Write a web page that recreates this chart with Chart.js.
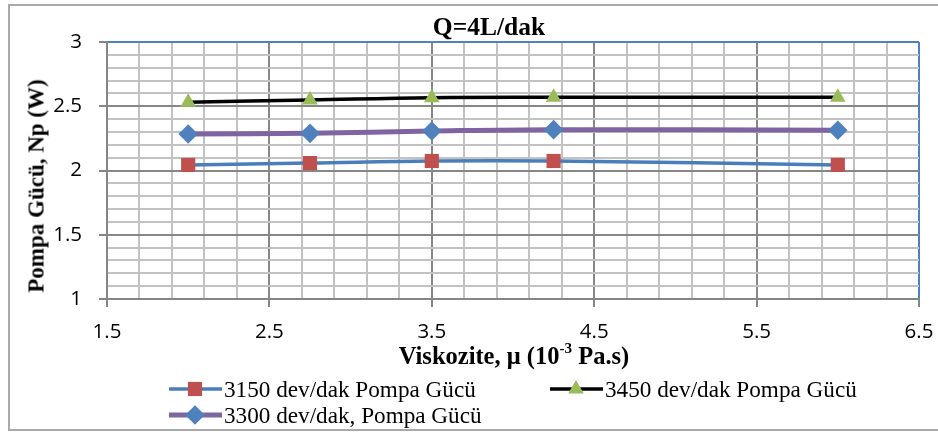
<!DOCTYPE html>
<html>
<head>
<meta charset="utf-8">
<script src="https://cdn.jsdelivr.net/npm/chart.js@4.4.1/dist/chart.umd.min.js"></script>
<style>
  html, body { margin: 0; padding: 0; background: #fff; overflow: hidden; }
  #wrap { position: relative; width: 938px; height: 432px; overflow: hidden; }
  #frame { position: absolute; left: 8px; top: 4px; width: 980px; height: 427px;
           border: 2px solid #a9a9a9; border-right: none; box-sizing: border-box; }
  canvas { position: absolute; left: 0; top: 0; }
  .t { position: absolute; font-family: 'Liberation Serif', 'Times New Roman', serif;
       color: #000; white-space: nowrap; line-height: 1; }
  #title  { left: 489px; top: 27px; transform: translate(-50%, -50%); font-weight: bold; font-size: 25.5px; }
  #ytitle { left: 36px; top: 186px; transform: translate(-50%, -50%) rotate(-90deg); font-weight: bold; font-size: 23px; }
  #xtitle { left: 514px; top: 356px; transform: translate(-50%, -50%); font-weight: bold; font-size: 24.5px; }
  #xtitle sup { font-size: 62%; position: relative; top: -0.1em; vertical-align: super; line-height: 0; }
  .leg { position: absolute; display: flex; align-items: center; height: 24px;
         font-family: 'Liberation Serif', 'Times New Roman', serif; font-size: 23.2px; color: #000; white-space: nowrap; }
  .leg svg { margin-right: 2px; }
</style>
</head>
<body>
<div id="wrap">
  <div id="frame"></div>
  <canvas id="c" width="938" height="432"></canvas>
  <div class="t" id="title">Q=4L/dak</div>
  <div class="t" id="ytitle">Pompa Gücü, Np (W)</div>
  <div class="t" id="xtitle">Viskozite, μ (10<sup>-3</sup> Pa.s)</div>
  <div id="legend"></div>
</div>
<script>
// Viscosity values (10^-3 Pa.s) at which pump power was measured
const viskozite = [2.0, 2.75, 3.5, 4.25, 6.0];

// Pump power (W) for each pump speed
const guc3150 = [2.043, 2.058, 2.074, 2.074, 2.043];
const guc3450 = [2.531, 2.549, 2.567, 2.570, 2.570];
const guc3300 = [2.284, 2.289, 2.307, 2.318, 2.313];

const seriesNames = ['3150 dev/dak Pompa Gücü', '3450 dev/dak Pompa Gücü', '3300 dev/dak, Pompa Gücü'];

// Axis ranges and labelled ticks
const xMin = 1.5, xMax = 6.5, xMinorStep = 0.2;
const yMin = 1, yMax = 3, yMinorStep = 0.1;
const xTickLabels = ['1.5', '2.5', '3.5', '4.5', '5.5', '6.5'];
const yTickLabels = ['1', '1.5', '2', '2.5', '3'];

const styles = [
  { line: '#4a7ebb', width: 3.5, fill: '#c0504d', shape: 'rect',     radius: 10 },
  { line: '#000000', width: 3.5, fill: '#9bbb59', shape: 'triangle', radius: 9 },
  { line: '#8064a2', width: 5,   fill: '#4f81bd', shape: 'rectRot',  radius: 9.8 }
];
const seriesValues = [guc3150, guc3450, guc3300];

const datasets = seriesValues.map((vals, i) => ({
  label: seriesNames[i],
  data: viskozite.map((x, j) => ({ x: x, y: vals[j] })),
  borderColor: styles[i].line,
  borderWidth: styles[i].width,
  backgroundColor: styles[i].fill,
  pointBackgroundColor: styles[i].fill,
  pointBorderColor: styles[i].fill,
  pointBorderWidth: 0,
  pointStyle: styles[i].shape,
  pointRadius: styles[i].radius,
  pointHoverRadius: styles[i].radius,
  tension: 0.4,
  fill: false
}));

function labelFor(value, labels) {
  const hit = labels.find(l => Math.abs(parseFloat(l) - value) < 1e-6);
  return hit === undefined ? null : hit;
}

function makeTicks(min, max, step) {
  const out = [];
  const n = Math.round((max - min) / step);
  for (let i = 0; i <= n; i++) out.push({ value: Math.round((min + i * step) * 1000) / 1000 });
  return out;
}

const MINOR = '#c2c2c2', MAJOR = '#878787', EDGE = '#4f81bd', AXIS = '#868686';

new Chart(document.getElementById('c'), {
  type: 'line',
  data: { datasets: datasets },
  options: {
    responsive: false,
    animation: false,
    devicePixelRatio: 1,
    layout: { padding: { top: 42, right: 19, left: 0, bottom: 0 } },
    plugins: { legend: { display: false }, title: { display: false }, tooltip: { enabled: false } },
    elements: { line: { capBezierPoints: true } },
    scales: {
      x: {
        type: 'linear', min: xMin, max: xMax,
        afterBuildTicks: s => { s.ticks = makeTicks(xMin, xMax, xMinorStep); },
        afterFit: s => { s.height = 133; s.paddingLeft = 0; s.paddingRight = 0; },
        border: { display: true, color: AXIS, width: 2 },
        grid: {
          drawTicks: true, tickLength: 8,
          color: c => c.tick && Math.abs(c.tick.value - xMax) < 1e-6 ? EDGE
                   : (c.tick && labelFor(c.tick.value, xTickLabels) !== null ? MAJOR : MINOR),
          lineWidth: 2,
          tickColor: c => c.tick && labelFor(c.tick.value, xTickLabels) !== null ? AXIS : 'rgba(0,0,0,0)',
          tickWidth: 2
        },
        ticks: {
          autoSkip: false, maxRotation: 0, padding: 13, color: '#000',
          font: { family: "'Open Sans', sans-serif", size: 20.5 },
          callback: v => { const l = labelFor(v, xTickLabels); return l === null ? '' : l; }
        }
      },
      y: {
        type: 'linear', min: yMin, max: yMax,
        afterBuildTicks: s => { s.ticks = makeTicks(yMin, yMax, yMinorStep); },
        afterFit: s => { s.width = 107; s.paddingTop = 0; s.paddingBottom = 0; },
        border: { display: true, color: AXIS, width: 2 },
        grid: {
          drawTicks: true, tickLength: 8,
          color: c => c.tick && Math.abs(c.tick.value - yMax) < 1e-6 ? EDGE
                   : (c.tick && labelFor(c.tick.value, yTickLabels) !== null ? MAJOR : MINOR),
          lineWidth: 2,
          tickColor: c => c.tick && labelFor(c.tick.value, yTickLabels) !== null ? AXIS : 'rgba(0,0,0,0)',
          tickWidth: 2
        },
        ticks: {
          autoSkip: false, padding: 17, color: '#000',
          font: { family: "'Open Sans', sans-serif", size: 20.5 },
          callback: v => { const l = labelFor(v, yTickLabels); return l === null ? '' : l; }
        }
      }
    }
  }
});

// Legend: line sample with marker, then series name
function markerSvg(st) {
  const cx = 26, cy = 12;
  let m = '';
  if (st.shape === 'rect') {
    const h = st.radius * Math.SQRT1_2;
    m = `<rect x="${cx - h}" y="${cy - h}" width="${2 * h}" height="${2 * h}" fill="${st.fill}"/>`;
  } else if (st.shape === 'rectRot') {
    const r = st.radius;
    m = `<polygon points="${cx},${cy - r} ${cx + r},${cy} ${cx},${cy + r} ${cx - r},${cy}" fill="${st.fill}"/>`;
  } else {
    const r = st.radius, w = r * Math.sin(Math.PI / 3);
    m = `<polygon points="${cx},${cy - r} ${cx + w},${cy + r / 2} ${cx - w},${cy + r / 2}" fill="${st.fill}"/>`;
  }
  return `<svg width="53" height="24" viewBox="0 0 53 24"><line x1="0" y1="${cy}" x2="53" y2="${cy}" stroke="${st.line}" stroke-width="${st.width}"/>${m}</svg>`;
}
const legendPos = [{ left: 169, top: 377 }, { left: 550, top: 377 }, { left: 169, top: 403 }];
const legend = document.getElementById('legend');
seriesNames.forEach((name, i) => {
  const d = document.createElement('div');
  d.className = 'leg';
  d.style.left = legendPos[i].left + 'px';
  d.style.top = legendPos[i].top + 'px';
  d.innerHTML = markerSvg(styles[i]) + '<span>' + name + '</span>';
  legend.appendChild(d);
});
</script>
</body>
</html>
